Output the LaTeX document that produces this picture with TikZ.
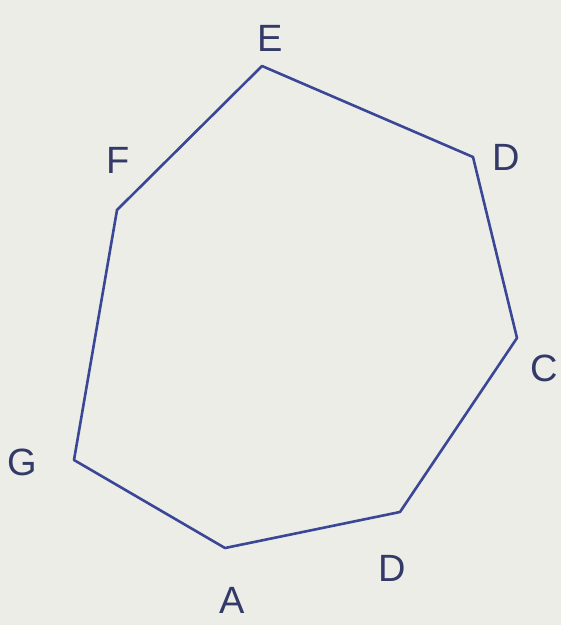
\documentclass[tikz,border=0pt]{standalone}
\usepackage{fontspec}
\setmainfont{Liberation Sans}
\definecolor{paper}{HTML}{EDEDE8}
\definecolor{ink}{HTML}{3A4696}
\definecolor{lab}{HTML}{343A68}
\begin{document}
\begin{tikzpicture}[x=1pt,y=-1pt,
  edge/.style={draw=ink,line width=2.6pt,line join=round,line cap=round},
  lbl/.style={text=lab,font=\fontsize{38}{38}\selectfont,inner sep=0pt}]
\fill[paper] (0,0) rectangle (561,625);
\useasboundingbox (0,0) rectangle (561,625);
\coordinate (E) at (262,66);
\coordinate (D1) at (473,157);
\coordinate (C) at (517,338);
\coordinate (D2) at (400,512);
\coordinate (A) at (225,548);
\coordinate (G) at (74,460);
\coordinate (F) at (117,210);
\draw[edge] (E) -- (D1) -- (C) -- (D2) -- (A) -- (G) -- (F) -- cycle;
\node[lbl] (lE) at (270,38) {E};
\node[lbl] (lD1) at (506,157) {D};
\node[lbl] (lC) at (544,368) {C};
\node[lbl] (lD2) at (392,568) {D};
\node[lbl] (lA) at (232,600) {A};
\node[lbl] (lG) at (22,462) {G};
\node[lbl] (lF) at (118,160) {F};
\end{tikzpicture}
\end{document}
